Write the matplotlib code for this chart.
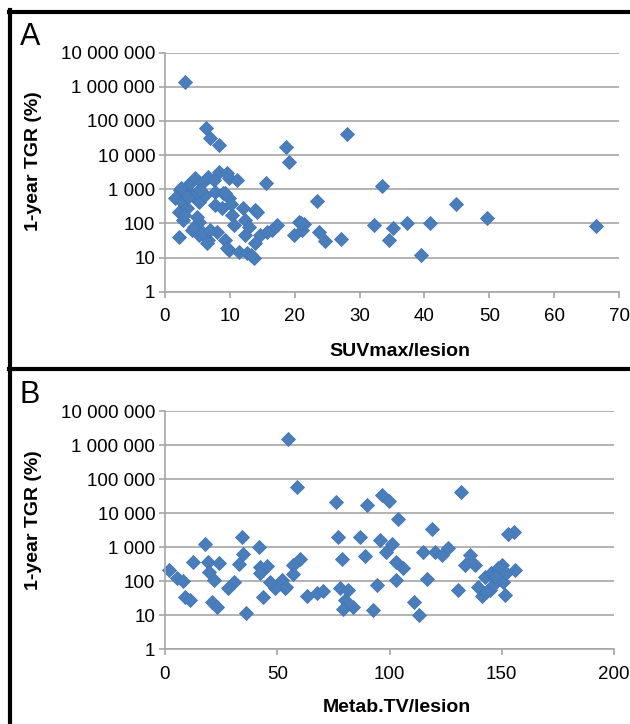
import numpy as np
import matplotlib
matplotlib.use('Agg')
import matplotlib.pyplot as plt
from matplotlib.lines import Line2D
from matplotlib.ticker import FixedLocator, FuncFormatter, NullLocator

plt.rcParams['font.family'] = ['Liberation Sans', 'DejaVu Sans']

# Panel A: SUVmax per lesion vs 1-year tumour growth rate (%)
suv_max = [3.1, 6.3, 7.0, 8.4, 18.7, 19.1, 28.1, 15.6, 23.5, 33.5, 44.8, 49.6, 66.4,
           32.3, 35.1, 34.6, 37.3, 40.8, 39.5, 20.6, 21.4, 19.9, 23.7, 24.7, 27.2,
           17.3, 16.5, 2.3, 1.5, 2.6, 2.1, 2.8, 3.4, 4.6, 5.7, 4.1, 5.2, 4.9, 6.2,
           6.7, 8.3, 9.8, 11.1, 7.7, 9.0, 9.8, 7.7, 8.8, 10.3, 12.1, 13.9, 10.6,
           12.4, 12.9, 2.1, 4.1, 5.2, 6.7, 8.0, 9.3, 9.8, 11.4, 12.6, 13.7, 5.2,
           3.6, 14.2, 12.4, 14.7, 13.9, 13.2, 4.4, 5.9, 6.5, 7.0, 9.5, 15.7, 2.4,
           5.4, 7.5, 9.5, 9.3, 10.1, 21.2, 20.9, 4.9, 3.0, 3.5]
tgr_a = [1380000, 60000, 31000, 20000, 17000, 6300, 41000, 1550, 440, 1260, 365, 140, 83,
         87, 71, 32, 100, 105, 12, 110, 95, 46, 56, 31, 36,
         89, 63, 940, 540, 430, 218, 125, 275, 2080, 1480, 670, 430, 840, 670,
         2300, 3200, 2080, 1850, 840, 760, 540, 345, 275, 175, 275, 245, 89,
         126, 79, 40, 63, 46, 32, 56, 32, 17, 15, 14, 10, 112,
         1320, 218, 46, 46, 26, 12, 79, 51, 26, 63, 19, 57, 1050,
         940, 1850, 2900, 750, 380, 63, 100, 155, 180, 600]

# Panel B: metabolic tumour volume per lesion vs 1-year tumour growth rate (%)
metab_tv = [54.9, 58.6, 76.0, 89.8, 96.5, 99.9, 103.9, 131.8, 76.9, 86.8, 79.0, 89.0,
            95.7, 98.4, 100.9, 103.1, 103.1, 94.3, 92.8, 77.9, 81.6, 80.1, 79.4, 83.8,
            63.1, 67.5, 70.5, 60.1, 57.1, 57.1, 53.4, 49.0, 46.7, 43.8, 42.3, 45.3,
            41.9, 34.1, 34.9, 32.9, 30.7, 27.9, 36.1, 17.8, 12.6, 19.0, 24.0, 19.7,
            21.8, 1.9, 5.2, 8.2, 8.9, 11.1, 20.8, 23.3, 119.0, 155.3, 152.9, 115.0,
            120.2, 123.2, 126.1, 135.8, 133.6, 138.0, 106.1, 116.8, 130.6, 110.9, 113.1,
            149.9, 155.8, 142.5, 145.4, 147.7, 150.6, 139.5, 144.6, 141.0, 151.3, 146.2,
            51.9, 54.1, 42.3, 148.4, 143.2, 147.0, 152.0]
tgr_b = [1500000, 60000, 21500, 17000, 34000, 23000, 6700, 41000, 2000, 1950, 450, 550,
         1600, 740, 1240, 375, 109, 78, 14, 62, 55, 28, 15, 18,
         37, 44, 53, 440, 300, 163, 62, 62, 97, 35, 268, 287,
         1000, 2040, 630, 315, 97, 62, 12, 1240, 360, 360, 350, 183,
         109, 213, 122, 102, 35, 29, 25, 18, 3400, 2700, 2400, 710,
         740, 590, 930, 590, 300, 300, 240, 116, 55, 25, 10,
         300, 213, 135, 170, 109, 97, 69, 55, 37, 39, 78,
         110, 69, 178, 240, 49, 140, 170]

Y_TICKS = [1, 10, 100, 1000, 10000, 100000, 1000000, 10000000]
BLUE = '#4A7EBB'
GRID = '#a6a6a6'
W, H = 630, 724


def fx(px):
    return px / W


def fy(py):
    return 1 - py / H


def style_axes(ax, xmax, xstep):
    ax.set_yscale('log')
    ax.set_ylim(1, 1e7)
    ax.set_xlim(0, xmax)
    ax.yaxis.set_major_locator(FixedLocator(Y_TICKS))
    ax.yaxis.set_minor_locator(NullLocator())
    ax.yaxis.set_major_formatter(FuncFormatter(lambda v, p: f"{int(round(v)):,}".replace(',', ' ')))
    ax.set_xticks(np.arange(0, xmax + 1, xstep))
    ax.grid(True, axis='y', color=GRID, linewidth=1.2)
    ax.set_axisbelow(True)
    for side in ['top', 'right']:
        ax.spines[side].set_visible(False)
    for side in ['left', 'bottom']:
        ax.spines[side].set_color(GRID)
        ax.spines[side].set_linewidth(1.2)
    ax.tick_params(axis='y', colors=GRID, labelcolor='black', labelsize=13.5, length=4, width=1.2, pad=3)
    ax.tick_params(axis='x', colors=GRID, labelcolor='black', labelsize=13.5, length=4, width=1.2, pad=8)


fig = plt.figure(figsize=(6.3, 7.24), dpi=100)

ax_a = fig.add_axes([fx(165), fy(291.7), fx(619 - 165), (291.7 - 52.5) / H])
ax_a.plot(suv_max, tgr_a, 'D', color=BLUE, markersize=7.4, markeredgecolor='#4276b6',
          markeredgewidth=0.6, clip_on=False)
style_axes(ax_a, 70, 10)

ax_b = fig.add_axes([fx(165), fy(649.3), fx(614 - 165), (649.3 - 411) / H])
ax_b.plot(metab_tv, tgr_b, 'D', color=BLUE, markersize=7.4, markeredgecolor='#4276b6',
          markeredgewidth=0.6, clip_on=False)
style_axes(ax_b, 200, 50)

# axis titles
fig.text(fx(34), fy(161.5), '1-year TGR (%)', rotation=90, ha='center', va='center',
         fontsize=14, fontweight='bold')
fig.text(fx(34), fy(520), '1-year TGR (%)', rotation=90, ha='center', va='center',
         fontsize=14, fontweight='bold')
fig.text(fx(400), fy(351), 'SUVmax/lesion', ha='center', va='center', fontsize=14, fontweight='bold')
fig.text(fx(397), fy(708), 'Metab.TV/lesion', ha='center', va='center', fontsize=14, fontweight='bold')

# panel letters
fig.text(fx(20), fy(45), 'A', fontsize=22, ha='left', va='baseline')
fig.text(fx(20), fy(403), 'B', fontsize=22, ha='left', va='baseline')

# thick panel frames
lw = 3
fig.add_artist(Line2D([fx(10), fx(10)], [fy(10), 0], color='black', linewidth=lw))
fig.add_artist(Line2D([fx(8.5), 1], [fy(11.5), fy(11.5)], color='black', linewidth=lw))
fig.add_artist(Line2D([fx(8.5), 1], [fy(369), fy(369)], color='black', linewidth=lw))

fig.savefig('out.png', dpi=100)
